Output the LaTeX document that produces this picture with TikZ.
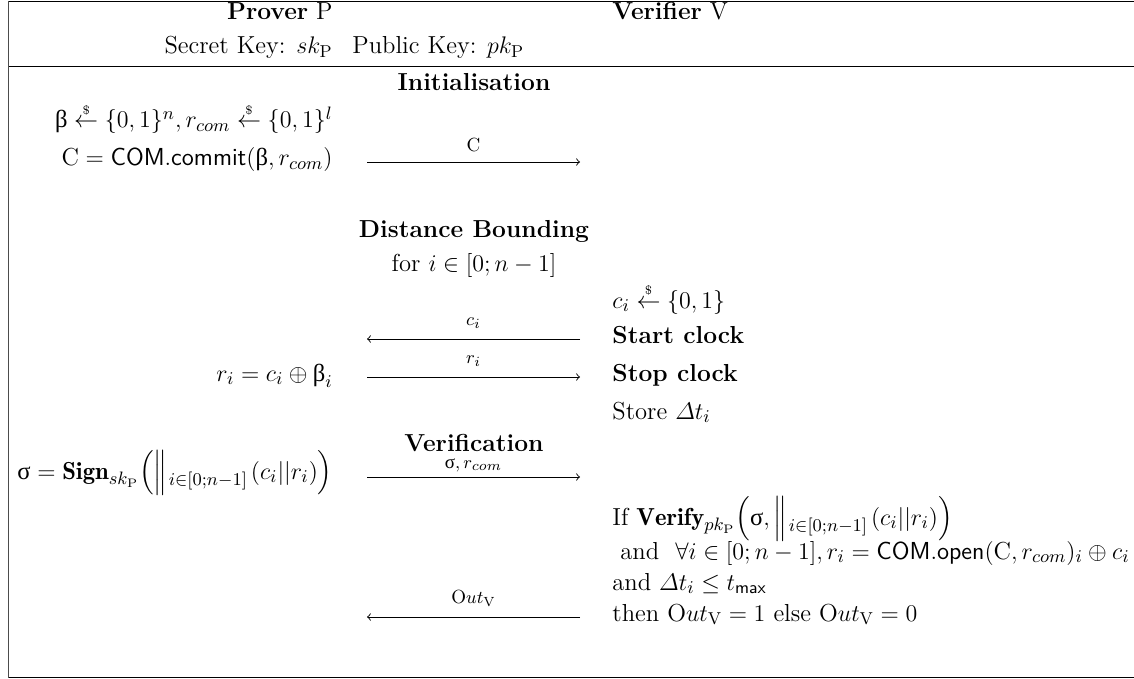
\documentclass[tikz,border=0pt]{standalone}
\usepackage{amsmath,amssymb}
\usepackage{fontspec}
\newfontfamily\grk{Liberation Serif}
\newcommand{\gb}{\text{\grk β}}
\newcommand{\gs}{\text{\grk σ}}
\newcommand{\rsrand}{\overset{\scriptscriptstyle\$}{\leftarrow}}
\newcommand{\bigcat}{\Big\|\mkern1mu\raisebox{-3pt}{$\scriptstyle i\in[0;n-1]$}}
\tikzset{
  txt/.style={inner sep=0pt, font=\fontsize{12.3}{14}\selectfont},
  lcol/.style={txt, anchor=base east},
  rcol/.style={txt, anchor=base west},
  mcol/.style={txt, anchor=base},
  msg/.style={->, line width=0.45pt, >=to},
  lab/.style={inner sep=0pt, font=\fontsize{9.5}{10}\selectfont},
  frame/.style={line width=0.5pt}
}
\begin{document}
\begin{tikzpicture}[x=0.5pt,y=-0.5pt]
\useasboundingbox (0,0) rectangle (1134,679);
% frame
\draw[frame] (8,1.5) -- (1134,1.5);
\draw[frame] (8,67) -- (1134,67);
\draw[frame] (1134,677.5) -- (8,677.5);
\draw[frame, black!70] (8,1) -- (8,678);
% header
\node[lcol] (prover) at (333,20) {\textbf{Prover} P};
\node[rcol] (verifier) at (612,20) {\textbf{Verifier} V};
\node[lcol] (sk) at (333,54) {Secret Key: $sk_{\mathrm{P}}$};
\node[rcol] (pk) at (352,54) {Public Key: $pk_{\mathrm{P}}$};
% initialisation
\node[mcol] (init) at (474,91) {\textbf{Initialisation}};
\node[lcol] (beta) at (333,128) {$\gb \rsrand \{0,1\}^n, r_{com} \rsrand \{0,1\}^l$};
\node[lcol] (commit) at (333,166) {$\mathrm{C} = \mathsf{COM.commit}(\gb, r_{com})$};
\coordinate (c1a) at (367,162);
\coordinate (c1b) at (580,162);
\draw[msg] (c1a) -- (c1b) node[lab, midway, above=5pt] {$\mathrm{C}$};
% distance bounding
\node[mcol] (db) at (474,238) {\textbf{Distance Bounding}};
\node[mcol] (for) at (474,271) {for $i \in [0;n-1]$};
\node[rcol] (ci) at (612,308) {$c_i \rsrand \{0,1\}$};
\node[rcol] (start) at (612,343) {\textbf{Start clock}};
\coordinate (c2a) at (580,339);
\coordinate (c2b) at (367,339);
\draw[msg] (c2a) -- (c2b) node[lab, midway, above=5pt] {$c_i$};
\node[lcol] (ri) at (333,381) {$r_i = c_i \oplus \gb_i$};
\node[rcol] (stop) at (612,381) {\textbf{Stop clock}};
\coordinate (c3a) at (367,377);
\coordinate (c3b) at (580,377);
\draw[msg] (c3a) -- (c3b) node[lab, midway, above=5pt] {$r_i$};
\node[rcol] (store) at (612,419) {Store $\varDelta t_i$};
% verification
\node[mcol] (ver) at (474,451) {\textbf{Verification}};
\node[lcol] (sig) at (333,479) {$\gs = \mathbf{Sign}_{sk_{\mathrm{P}}}\Big(\bigcat\,(c_i||r_i)\Big)$};
\coordinate (c4a) at (367,477);
\coordinate (c4b) at (580,477);
\draw[msg] (c4a) -- (c4b) node[lab, midway, above=2.5pt] {$\gs,r_{com}$};
\node[rcol] (if) at (612,525) {If $\mathbf{Verify}_{pk_{\mathrm{P}}}\Big(\gs, \bigcat\,(c_i||r_i)\Big)$};
\node[rcol] (and1) at (612,559) {\ and\ \ $\forall i \in [0;n-1], r_i = \mathsf{COM.open}(\mathrm{C}, r_{com})_i \oplus c_i$};
\node[rcol] (and2) at (612,590) {and $\varDelta t_i \le t_{\mathsf{max}}$};
\node[rcol] (then) at (612,621) {then $\mathrm{O}ut_{\mathrm{V}} = 1$ else $\mathrm{O}ut_{\mathrm{V}} = 0$};
\coordinate (c5a) at (580,617);
\coordinate (c5b) at (367,617);
\draw[msg] (c5a) -- (c5b) node[lab, midway, above=5pt] {$\mathrm{O}ut_{\mathrm{V}}$};
\end{tikzpicture}
\end{document}
